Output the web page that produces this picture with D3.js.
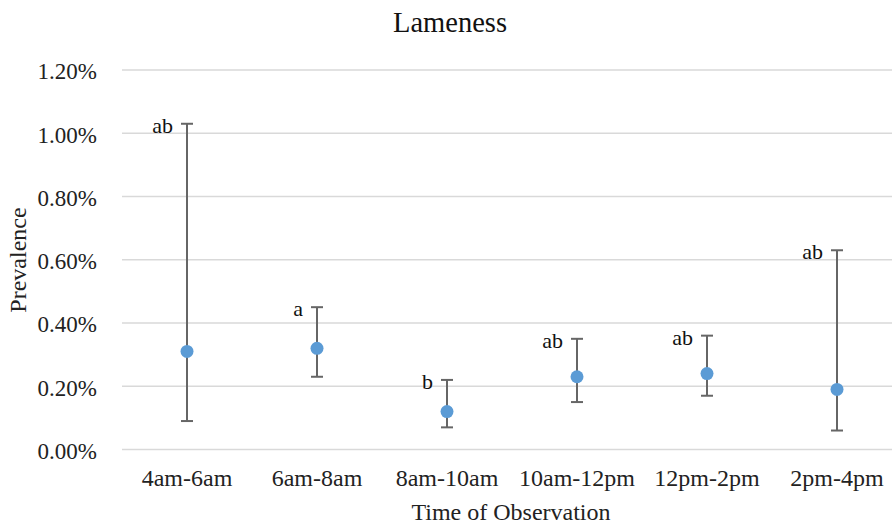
<!DOCTYPE html>
<html>
<head>
<meta charset="utf-8">
<script src="https://cdn.jsdelivr.net/npm/d3@7"></script>
<style>
  html, body { margin: 0; padding: 0; background: #fff; }
  svg, svg text { font-family: 'Liberation Serif', 'DejaVu Serif', serif !important; }
</style>
</head>
<body>
<svg id="chart" width="892" height="527"></svg>
<script>
const categories = ["4am-6am", "6am-8am", "8am-10am", "10am-12pm", "12pm-2pm", "2pm-4pm"];
const prevalence = [0.0031, 0.0032, 0.0012, 0.0023, 0.0024, 0.0019];
const lowerCI    = [0.0009, 0.0023, 0.0007, 0.0015, 0.0017, 0.0006];
const upperCI    = [0.0103, 0.0045, 0.0022, 0.0035, 0.0036, 0.0063];
const letters    = ["ab", "a", "b", "ab", "ab", "ab"];
const yTicks     = [0, 0.002, 0.004, 0.006, 0.008, 0.010, 0.012];

const svg = d3.select("#chart");
const W = 892, H = 527;
const margin = { left: 122, right: -10, top: 70, bottom: 77.5 };

const x = d3.scaleBand().domain(categories).range([margin.left, W - margin.right]).padding(0);
const y = d3.scaleLinear().domain([0, 0.012]).range([H - margin.bottom, margin.top]);

// gridlines
svg.append("g").selectAll("line").data(yTicks).join("line")
  .attr("x1", margin.left).attr("x2", W)
  .attr("y1", d => y(d)).attr("y2", d => y(d))
  .attr("stroke", "#d9d9d9").attr("stroke-width", 1.3);

// y axis labels
const yAxis = d3.axisLeft(y).tickValues(yTicks).tickFormat(d3.format(".2%")).tickSize(0).tickPadding(25);
const gy = svg.append("g").attr("transform", `translate(${margin.left},0)`).call(yAxis);
gy.select(".domain").remove();
gy.attr("font-family", null);
gy.selectAll("text").attr("font-size", 23).attr("fill", "#222").attr("dy", "0.38em");

// x axis labels
const xAxis = d3.axisBottom(x).tickSize(0).tickPadding(19);
const gx = svg.append("g").attr("transform", `translate(0,${y(0)})`).call(xAxis);
gx.select(".domain").remove();
gx.attr("font-family", null);
gx.selectAll("text").attr("font-size", 24).attr("fill", "#222");

const cx = d => x(d) + x.bandwidth() / 2;
const data = categories.map((c, i) => ({ c, v: prevalence[i], lo: lowerCI[i], hi: upperCI[i], l: letters[i] }));

// error bars
const eb = svg.append("g").attr("stroke", "#666").attr("stroke-width", 2);
eb.selectAll("line.v").data(data).join("line").attr("class", "v")
  .attr("x1", d => cx(d.c)).attr("x2", d => cx(d.c))
  .attr("y1", d => y(d.lo)).attr("y2", d => y(d.hi));
eb.selectAll("line.t").data(data).join("line").attr("class", "t")
  .attr("x1", d => cx(d.c) - 6).attr("x2", d => cx(d.c) + 6)
  .attr("y1", d => y(d.hi)).attr("y2", d => y(d.hi));
eb.selectAll("line.b").data(data).join("line").attr("class", "b")
  .attr("x1", d => cx(d.c) - 6).attr("x2", d => cx(d.c) + 6)
  .attr("y1", d => y(d.lo)).attr("y2", d => y(d.lo));

// points
svg.append("g").selectAll("circle").data(data).join("circle")
  .attr("cx", d => cx(d.c)).attr("cy", d => y(d.v)).attr("r", 6.5)
  .attr("fill", "#5b9bd5");

// letters
svg.append("g").selectAll("text").data(data).join("text")
  .attr("x", d => cx(d.c) - 14).attr("y", d => y(d.hi) + 9)
  .attr("text-anchor", "end").attr("font-size", 22).attr("fill", "#111")
  .text(d => d.l);

// title
svg.append("text").attr("x", 450).attr("y", 32).attr("text-anchor", "middle")
  .attr("font-size", 28.5).attr("fill", "#111").text("Lameness");

// axis titles
svg.append("text").attr("x", 511).attr("y", 520).attr("text-anchor", "middle")
  .attr("font-size", 24).attr("fill", "#222").text("Time of Observation");
svg.append("text").attr("transform", "translate(26,260) rotate(-90)").attr("text-anchor", "middle")
  .attr("font-size", 24).attr("fill", "#222").text("Prevalence");
</script>
</body>
</html>
